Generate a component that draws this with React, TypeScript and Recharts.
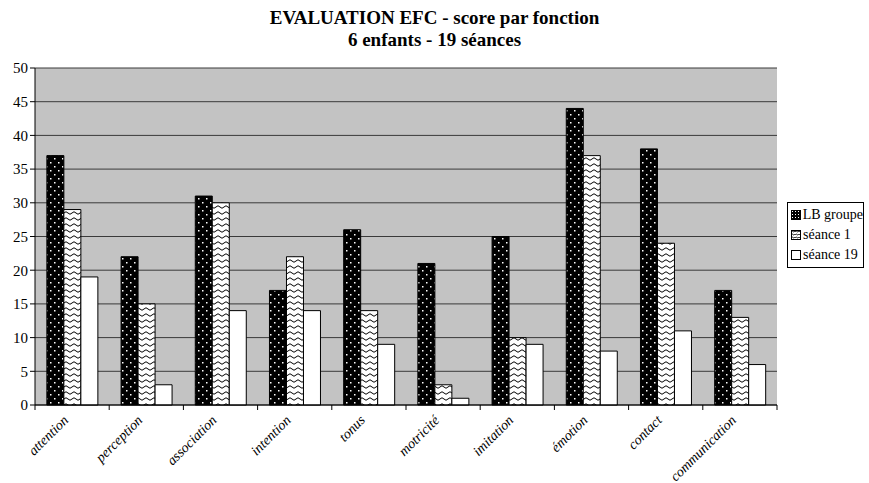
import React from "react";
import { BarChart, Bar, XAxis, YAxis, CartesianGrid } from "recharts";

const categories = ["attention", "perception", "association", "intention", "tonus", "motricité", "imitation", "émotion", "contact", "communication"];
const lbGroupe = [37, 22, 31, 17, 26, 21, 25, 44, 38, 17];
const seance1 = [29, 15, 30, 22, 14, 3, 10, 37, 24, 13];
const seance19 = [19, 3, 14, 14, 9, 1, 9, 8, 11, 6];
const yTicks = [0, 5, 10, 15, 20, 25, 30, 35, 40, 45, 50];
const seriesNames = ["LB groupe", "séance 1", "séance 19"];

const data = categories.map((c, i) => ({
  name: c,
  lb: lbGroupe[i],
  s1: seance1[i],
  s19: seance19[i],
}));

const FONT = '"Liberation Serif", "Times New Roman", serif';

const XTick = (props: any) => {
  const { x, y, payload } = props;
  const off = payload && payload.offset ? payload.offset : 0;
  const ax = x - 3;
  const ay = y + 8;
  return (
    <g>
      <line x1={x - off} y1={y - 8} x2={x - off} y2={y - 3} stroke="#000" strokeWidth={1} />
      {payload.index === categories.length - 1 ? (
        <line x1={x + off} y1={y - 8} x2={x + off} y2={y - 3} stroke="#000" strokeWidth={1} />
      ) : null}
      <text
        x={ax}
        y={ay}
        textAnchor="end"
        transform={`rotate(-45, ${ax}, ${ay})`}
        style={{ fontFamily: FONT, fontStyle: "italic", fontSize: 14 }}
        fill="#000"
      >
        {payload.value}
      </text>
    </g>
  );
};

const LegendBox = () => (
  <div
    style={{
      position: "absolute",
      left: 787,
      top: 202,
      width: 72,
      border: "1px solid #000",
      background: "#fff",
      padding: "2px 0 2px 3px",
      fontFamily: FONT,
      fontSize: 14,
      lineHeight: "20px",
      color: "#000",
    }}
  >
    <svg width={0} height={0} style={{ position: "absolute" }}>
      <defs>
        <pattern id="lgDots" width="3" height="3" patternUnits="userSpaceOnUse">
          <rect width="3" height="3" fill="#000" />
          <rect x="1" y="1" width="1" height="1" fill="#fff" />
        </pattern>
        <pattern id="lgWave" width="4" height="3" patternUnits="userSpaceOnUse">
          <rect width="4" height="3" fill="#fff" />
          <path d="M0 2 Q1 0 2 1.5 T4 1" stroke="#000" strokeWidth="0.8" fill="none" />
        </pattern>
      </defs>
    </svg>
    {seriesNames.map((n, i) => (
      <div key={n} style={{ display: "flex", alignItems: "center", whiteSpace: "nowrap" }}>
        <svg width={10} height={10} style={{ marginRight: 2 }}>
          <rect x={0.5} y={0.5} width={9} height={9} fill={i === 0 ? "url(#lgDots)" : i === 1 ? "url(#lgWave)" : "#fff"} stroke="#000" />
        </svg>
        <span>{n}</span>
      </div>
    ))}
  </div>
);

export default function App() {
  return (
    <div style={{ position: "absolute", left: 0, top: 0, width: 869, height: 483, background: "#fff", fontFamily: FONT }}>
      <div
        style={{
          position: "absolute",
          left: 0,
          top: 7,
          width: 869,
          textAlign: "center",
          fontFamily: FONT,
          fontWeight: "bold",
          fontSize: 19,
          lineHeight: "22px",
          color: "#000",
        }}
      >
        <div>EVALUATION EFC - score par fonction</div>
        <div>6 enfants - 19 séances</div>
      </div>
      <BarChart
        width={869}
        height={483}
        data={data}
        margin={{ top: 68, right: 92, bottom: 0, left: 0 }}
        barCategoryGap="16%"
        barGap={0}
        style={{ position: "absolute", left: 0, top: 0, fontFamily: FONT }}
      >
        <defs>
          <pattern id="dots" width="8" height="8" patternUnits="userSpaceOnUse">
            <rect width="8" height="8" fill="#000" />
            <rect x="2" y="2" width="1.5" height="1.5" fill="#fff" />
            <rect x="6" y="6" width="1.5" height="1.5" fill="#fff" />
          </pattern>
          <pattern id="wave" width="8" height="6" patternUnits="userSpaceOnUse">
            <rect width="8" height="6" fill="#fff" />
            <path d="M0 3 Q2 0.5 4 3 T8 3" stroke="#000" strokeWidth="1" fill="none" />
          </pattern>
        </defs>
        <CartesianGrid vertical={false} stroke="#3a3a3a" strokeWidth={1} fill="#c3c3c3" />
        <XAxis
          dataKey="name"
          height={78}
          axisLine={{ stroke: "#000" }}
          tickLine={false}
          tick={<XTick />}
          interval={0}
        />
        <YAxis
          width={35}
          domain={[0, 50]}
          ticks={yTicks}
          interval={0}
          axisLine={{ stroke: "#000" }}
          tickLine={{ stroke: "#000" }}
          tickSize={5}
          tick={{ fontSize: 15, fill: "#000", style: { fontFamily: FONT } }}
        />
        <Bar dataKey="lb" name={seriesNames[0]} fill="url(#dots)" stroke="#000" strokeWidth={1} isAnimationActive={false} />
        <Bar dataKey="s1" name={seriesNames[1]} fill="url(#wave)" stroke="#000" strokeWidth={1} isAnimationActive={false} />
        <Bar dataKey="s19" name={seriesNames[2]} fill="#fff" stroke="#000" strokeWidth={1} isAnimationActive={false} />
      </BarChart>
      <LegendBox />
    </div>
  );
}
